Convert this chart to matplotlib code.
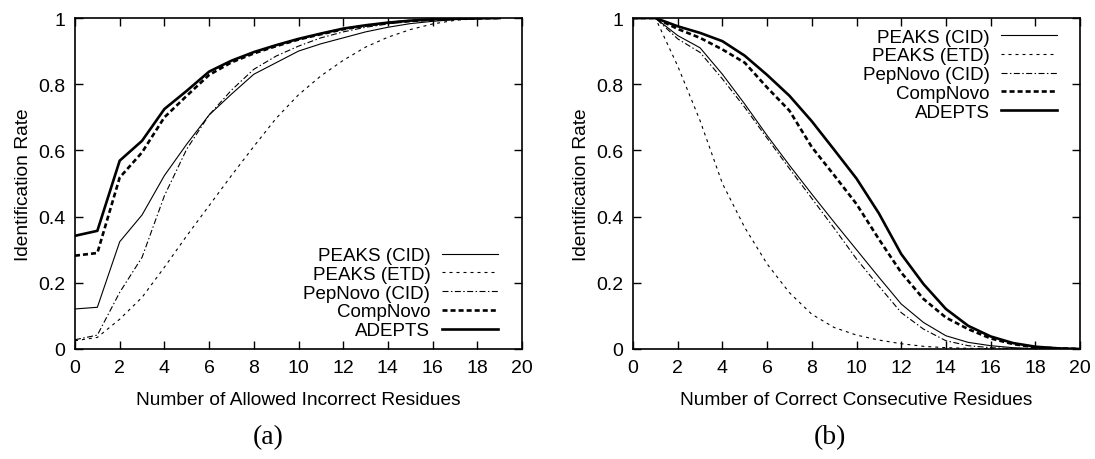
import matplotlib
matplotlib.use("Agg")
import matplotlib.pyplot as plt

plt.rcParams['font.family'] = ['Liberation Sans', 'DejaVu Sans']

# ---- data: panel (a) ----
x_a = list(range(0, 20))
a_peaks_cid = [0.121, 0.126, 0.324, 0.405, 0.524, 0.619, 0.707, 0.770, 0.830, 0.865,
               0.900, 0.922, 0.940, 0.958, 0.972, 0.983, 0.990, 0.995, 0.998, 1.000]
a_peaks_etd = [0.025, 0.035, 0.090, 0.156, 0.247, 0.342, 0.433, 0.524, 0.612, 0.697,
               0.768, 0.825, 0.872, 0.912, 0.942, 0.965, 0.982, 0.993, 0.998, 1.000]
a_pepnovo = [0.028, 0.042, 0.171, 0.277, 0.463, 0.604, 0.707, 0.782, 0.845, 0.885,
             0.915, 0.940, 0.958, 0.972, 0.982, 0.990, 0.995, 0.998, 0.999, 1.000]
a_compnovo = [0.282, 0.290, 0.518, 0.594, 0.700, 0.765, 0.828, 0.866, 0.893, 0.915,
              0.935, 0.951, 0.966, 0.977, 0.985, 0.991, 0.995, 0.998, 0.999, 1.000]
a_adepts = [0.342, 0.357, 0.569, 0.629, 0.725, 0.780, 0.838, 0.871, 0.897, 0.918,
            0.937, 0.953, 0.968, 0.978, 0.986, 0.992, 0.996, 0.998, 0.999, 1.000]

# ---- data: panel (b) ----
x_b = list(range(0, 21))
b_peaks_cid = [1.0, 1.0, 0.947, 0.910, 0.830, 0.740, 0.645, 0.555, 0.468, 0.383,
               0.300, 0.217, 0.136, 0.080, 0.040, 0.020, 0.010, 0.004, 0.001, 0.0, 0.0]
b_peaks_etd = [1.0, 1.0, 0.855, 0.690, 0.500, 0.367, 0.257, 0.170, 0.105, 0.065,
               0.042, 0.027, 0.016, 0.008, 0.004, 0.002, 0.001, 0.0, 0.0, 0.0, 0.0]
b_pepnovo = [1.0, 1.0, 0.937, 0.896, 0.816, 0.730, 0.637, 0.545, 0.455, 0.365,
             0.272, 0.190, 0.110, 0.060, 0.025, 0.010, 0.004, 0.001, 0.0, 0.0, 0.0]
b_compnovo = [1.0, 1.0, 0.967, 0.940, 0.905, 0.865, 0.790, 0.720, 0.610, 0.525,
              0.438, 0.332, 0.231, 0.151, 0.095, 0.060, 0.032, 0.015, 0.005, 0.002, 0.0]
b_adepts = [1.0, 1.0, 0.975, 0.955, 0.930, 0.886, 0.828, 0.765, 0.688, 0.602,
            0.515, 0.410, 0.287, 0.196, 0.121, 0.070, 0.038, 0.018, 0.007, 0.002, 0.0]

series_names = ["PEAKS (CID)", "PEAKS (ETD)", "PepNovo (CID)", "CompNovo", "ADEPTS"]
x_ticks = list(range(0, 21, 2))
y_ticks = [0, 0.2, 0.4, 0.6, 0.8, 1]
y_ticklabels = ["0", "0.2", "0.4", "0.6", "0.8", "1"]

styles = [
    dict(lw=0.8, ls='-'),
    dict(lw=0.8, ls=(0, (2.7, 3.6))),
    dict(lw=0.8, ls=(0, (5.4, 2.2, 1.3, 2.2))),
    dict(lw=1.9, ls=(0, (1.9, 1.15))),
    dict(lw=1.9, ls='-'),
]

FS_TICK = 14
FS_LABEL = 13.8
FS_LEG = 13.5
fig = plt.figure(figsize=(10.95, 4.60), dpi=100)
ax1 = fig.add_axes([75/1095, 110/460, 447/1095, 331/460])
ax2 = fig.add_axes([633/1095, 110/460, 447/1095, 331/460])


def style_axes(ax, xlabel):
    ax.set_xlim(0, 20)
    ax.set_ylim(0, 1)
    ax.set_xticks(x_ticks)
    ax.set_xticklabels([str(t) for t in x_ticks])
    ax.set_yticks(y_ticks)
    ax.set_yticklabels(y_ticklabels)
    ax.tick_params(direction='in', length=6, width=1.0, top=True, right=True,
                   labelsize=FS_TICK, pad=7, colors='black')
    for s in ax.spines.values():
        s.set_linewidth(1.2)
    ax.set_xlabel(xlabel, fontsize=FS_LABEL, labelpad=11)
    ax.set_ylabel("Identification Rate", fontsize=FS_LABEL, labelpad=4)


for ys, name, st in zip([a_peaks_cid, a_peaks_etd, a_pepnovo, a_compnovo, a_adepts],
                        series_names, styles):
    ax1.plot(x_a, ys, color='black', label=name, linewidth=st['lw'], linestyle=st['ls'])
for ys, name, st in zip([b_peaks_cid, b_peaks_etd, b_pepnovo, b_compnovo, b_adepts],
                        series_names, styles):
    ax2.plot(x_b, ys, color='black', label=name, linewidth=st['lw'], linestyle=st['ls'])

style_axes(ax1, "Number of Allowed Incorrect Residues")
style_axes(ax2, "Number of Correct Consecutive Residues")

leg_kw = dict(frameon=False, markerfirst=False, fontsize=FS_LEG, handlelength=3.0,
              handletextpad=0.6, labelspacing=0.085, borderpad=0, borderaxespad=0)
ax1.legend(loc='lower right', bbox_to_anchor=(0.946, 0.03), **leg_kw)
ax2.legend(loc='upper right', bbox_to_anchor=(0.9485, 0.968), **leg_kw)

fig.text(268/1095, 1 - 438/460, "(a)", ha='center', va='center',
         fontsize=20, family='Liberation Serif')
fig.text(830/1095, 1 - 438/460, "(b)", ha='center', va='center',
         fontsize=20, family='Liberation Serif')

fig.savefig("out.png", dpi=100)
